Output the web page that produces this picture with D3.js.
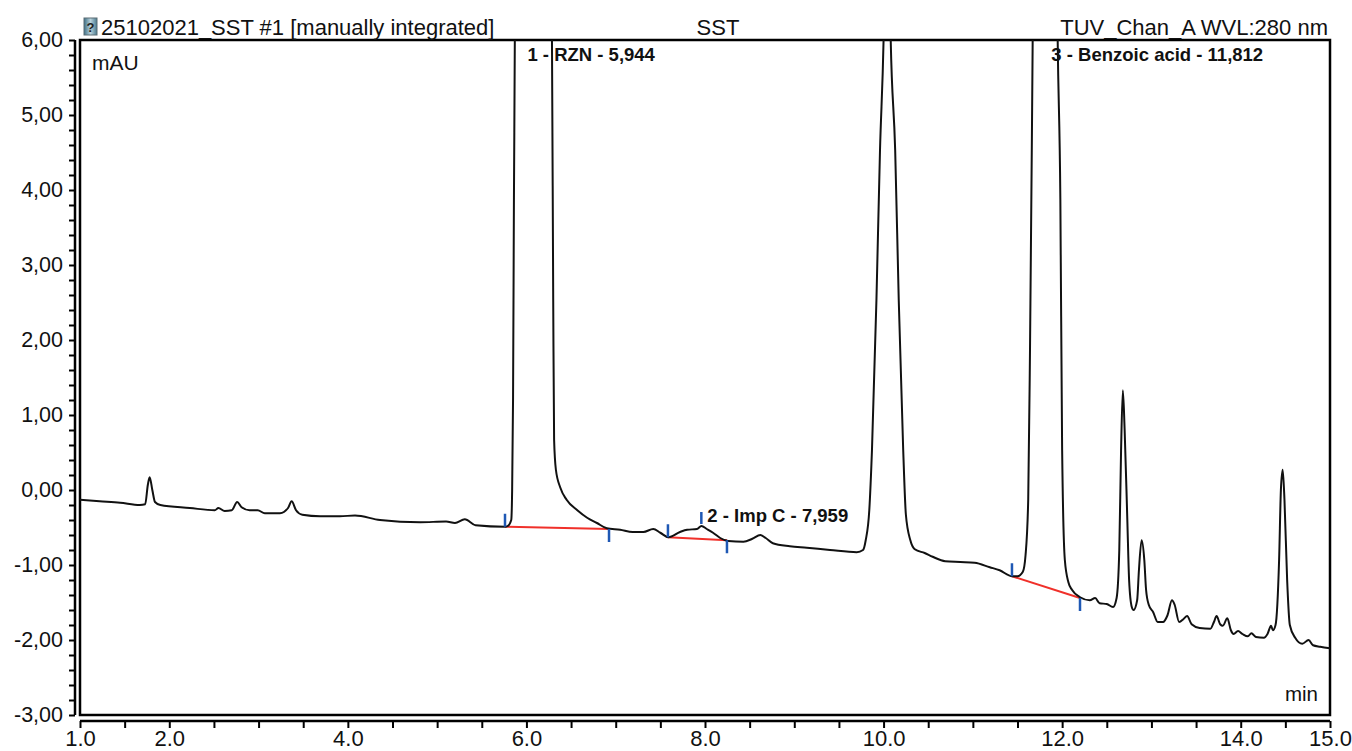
<!DOCTYPE html>
<html>
<head>
<meta charset="utf-8">
<script src="https://cdn.jsdelivr.net/npm/d3@7"></script>
<style>
  body { margin: 0; background: #fff; }
  text { font-family: "Liberation Sans", Arial, sans-serif; }
</style>
</head>
<body>
<div id="chart"></div>
<script>
// chromatogram trace (min / mAU)
var traceTime = [1.00, 1.22, 1.45, 1.67, 1.73, 1.76, 1.78, 1.81, 1.84, 1.90, 2.23, 2.51, 2.55, 2.62, 2.70, 2.76, 2.81, 2.90, 2.99, 3.07, 3.24, 3.33, 3.37, 3.42, 3.49, 3.69, 3.91, 4.08, 4.36, 4.81, 5.10, 5.20, 5.31, 5.43, 5.76,
  5.79, 5.83, 5.84, 5.85, 5.86, 5.87, 5.944, 6.05, 6.20, 6.286, 6.30, 6.31, 6.33, 6.38, 6.45, 6.57, 6.68, 6.79, 6.90, 7.05, 7.19, 7.31, 7.42, 7.50, 7.59, 7.72, 7.80, 7.91, 7.96, 8.02, 8.09, 8.17, 8.26, 8.43, 8.53, 8.62, 8.68, 8.76, 8.95, 9.14, 9.40, 9.70, 9.77, 9.80, 9.84, 9.87, 9.92, 9.96, 10.00, 10.04, 10.08, 10.13, 10.17, 10.22, 10.25, 10.30, 10.35, 10.46, 10.55, 10.69, 10.86, 11.02, 11.19, 11.30, 11.44, 11.50, 11.56, 11.59, 11.62, 11.64, 11.66, 11.67, 11.812, 11.95, 11.98, 12.00, 12.03, 12.07, 12.11, 12.20, 12.31, 12.37, 12.42, 12.50, 12.57, 12.61, 12.64, 12.66, 12.68, 12.70, 12.73, 12.75, 12.78, 12.80, 12.84, 12.86, 12.89, 12.92, 12.94, 12.97, 13.02, 13.07, 13.13, 13.18, 13.23, 13.26, 13.31, 13.36, 13.40, 13.45, 13.54, 13.66, 13.70, 13.73, 13.77, 13.80, 13.85, 13.89, 13.92, 13.97, 14.02, 14.08, 14.12, 14.17, 14.26, 14.30, 14.34, 14.36, 14.39, 14.43, 14.45, 14.47, 14.49, 14.52, 14.55, 14.61, 14.69, 14.76, 14.81, 14.89, 15.00];
var traceMau = [-0.13, -0.15, -0.17, -0.20, -0.19, 0.07, 0.17, 0.00, -0.16, -0.20, -0.24, -0.27, -0.24, -0.28, -0.27, -0.16, -0.23, -0.27, -0.27, -0.31, -0.31, -0.24, -0.15, -0.27, -0.33, -0.35, -0.35, -0.34, -0.40, -0.43, -0.42, -0.44, -0.39, -0.47, -0.49,
  -0.48, -0.40, 0.00, 1.20, 3.87, 6.00, 60.0, 30.0, 12.0, 6.00, 2.53, 0.67, 0.27, 0.03, -0.13, -0.27, -0.37, -0.44, -0.51, -0.53, -0.56, -0.56, -0.52, -0.57, -0.63, -0.56, -0.53, -0.52, -0.48, -0.52, -0.57, -0.64, -0.68, -0.69, -0.65, -0.60, -0.64, -0.71, -0.75, -0.77, -0.80, -0.83, -0.80, -0.67, -0.27, 0.53, 2.53, 4.53, 6.00, 9.00, 6.00, 4.53, 2.53, 0.53, -0.33, -0.67, -0.79, -0.84, -0.89, -0.95, -0.96, -0.97, -1.03, -1.07, -1.15, -1.15, -1.09, -0.87, -0.13, 1.87, 4.53, 6.00, 40.0, 6.00, 3.87, 0.53, -0.93, -1.23, -1.33, -1.43, -1.47, -1.44, -1.51, -1.52, -1.56, -1.44, -0.80, 0.53, 1.33, 0.80, -0.40, -1.20, -1.56, -1.60, -1.47, -1.07, -0.67, -0.93, -1.33, -1.53, -1.63, -1.76, -1.76, -1.67, -1.47, -1.53, -1.76, -1.72, -1.68, -1.79, -1.84, -1.85, -1.76, -1.68, -1.79, -1.81, -1.71, -1.87, -1.92, -1.88, -1.92, -1.95, -1.91, -1.96, -1.97, -1.92, -1.81, -1.87, -1.80, -0.93, 0.00, 0.27, -0.13, -1.20, -1.80, -1.97, -2.05, -2.00, -2.07, -2.09, -2.11];

// integrated peaks
var peakNames = ["1 - RZN - 5,944", "2 - Imp C - 7,959", "3 - Benzoic acid - 11,812"];
var peakApexTime = [5.944, 7.959, 11.812];
var peakApexMau = [60.0, -0.48, 40.0];
var peakStartTime = [5.76, 7.585, 11.438];
var peakStartMau = [-0.49, -0.63, -1.15];
var peakEndTime = [6.925, 8.246, 12.20];
var peakEndMau = [-0.52, -0.67, -1.44];

// axis ticks
var xTickLabels = [1, 2, 4, 6, 8, 10, 12, 14, 15];
var yTickLabels = [-3, -2, -1, 0, 1, 2, 3, 4, 5, 6];

var W = 1352, H = 751;
var pLeft = 80, pRight = 1330, pTop = 40, pBottom = 715;

var svg = d3.select("#chart").append("svg")
    .attr("width", W)
    .attr("height", H);

var x = d3.scaleLinear().domain([1, 15]).range([pLeft, pRight]);
var y = d3.scaleLinear().domain([-3, 6]).range([pBottom, pTop]);

svg.append("clipPath").attr("id", "plotclip")
  .append("rect")
    .attr("x", pLeft).attr("y", pTop)
    .attr("width", pRight - pLeft).attr("height", pBottom - pTop);

// y axis, a bit to the left of the frame (comma decimals, plain hyphen)
var yAxis = d3.axisLeft(y)
    .tickValues(d3.range(-3, 6.001, 0.2))
    .tickSize(6)
    .tickFormat(function (d) {
        var r = Math.round(d * 100) / 100;
        if (yTickLabels.indexOf(r) < 0) return "";
        return r.toFixed(2).replace(".", ",");
    });
var gy = svg.append("g")
    .attr("transform", "translate(" + (pLeft - 5) + ",0)")
    .call(yAxis);
gy.select(".domain").attr("stroke-width", 2.5).attr("d", "M0," + pTop + "V" + pBottom);
gy.selectAll(".tick line").attr("stroke-width", 2);
gy.selectAll(".tick text").attr("font-size", 21.5).attr("fill", "#111").attr("x", -12);

// x axis, a bit below the frame
var xAxis = d3.axisBottom(x)
    .tickValues(d3.range(1, 15.001, 0.5))
    .tickSize(7)
    .tickFormat(function (d) { return xTickLabels.indexOf(d) >= 0 ? d.toFixed(1) : ""; });
var gx = svg.append("g")
    .attr("transform", "translate(0," + (pBottom + 6) + ")")
    .call(xAxis);
gx.select(".domain").attr("stroke-width", 2.5).attr("d", "M" + pLeft + ",0H" + pRight);
gx.selectAll(".tick line").attr("stroke-width", 2);
gx.selectAll(".tick text").attr("font-size", 22).attr("fill", "#111").attr("y", 9);

// plot frame
svg.append("rect")
    .attr("x", pLeft).attr("y", pTop)
    .attr("width", pRight - pLeft).attr("height", pBottom - pTop)
    .attr("fill", "none")
    .attr("stroke", "#000")
    .attr("stroke-width", 2.5);

var trace = traceTime.map(function (t, i) { return [t, traceMau[i]]; });
var plot = svg.append("g").attr("clip-path", "url(#plotclip)");

// integration baselines
plot.selectAll(".base")
    .data(peakNames)
    .enter().append("line")
    .attr("x1", function (d, i) { return x(peakStartTime[i]); })
    .attr("y1", function (d, i) { return y(peakStartMau[i]); })
    .attr("x2", function (d, i) { return x(peakEndTime[i]); })
    .attr("y2", function (d, i) { return y(peakEndMau[i]); })
    .attr("stroke", "#f0302a")
    .attr("stroke-width", 2);

plot.append("path")
    .datum(trace)
    .attr("fill", "none")
    .attr("stroke", "#111")
    .attr("stroke-width", 2)
    .attr("stroke-linejoin", "round")
    .attr("d", d3.line()
        .curve(d3.curveMonotoneX)
        .x(function (d) { return x(d[0]); })
        .y(function (d) { return y(d[1]); }));

// blue peak delimiters
var blue = "#1f58b4";
plot.selectAll(".startMark").data(peakNames).enter().append("line")
    .attr("x1", function (d, i) { return x(peakStartTime[i]); })
    .attr("x2", function (d, i) { return x(peakStartTime[i]); })
    .attr("y1", function (d, i) { return y(peakStartMau[i]); })
    .attr("y2", function (d, i) { return y(peakStartMau[i]) - 13; })
    .attr("stroke", blue).attr("stroke-width", 2.5);
plot.selectAll(".endMark").data(peakNames).enter().append("line")
    .attr("x1", function (d, i) { return x(peakEndTime[i]); })
    .attr("x2", function (d, i) { return x(peakEndTime[i]); })
    .attr("y1", function (d, i) { return y(peakEndMau[i]); })
    .attr("y2", function (d, i) { return y(peakEndMau[i]) + 13; })
    .attr("stroke", blue).attr("stroke-width", 2.5);
plot.selectAll(".apexMark").data(peakNames).enter().append("line")
    .attr("x1", function (d, i) { return x(peakApexTime[i]); })
    .attr("x2", function (d, i) { return x(peakApexTime[i]); })
    .attr("y1", function (d, i) { return y(peakApexMau[i]) - 2; })
    .attr("y2", function (d, i) { return y(peakApexMau[i]) - 14; })
    .attr("stroke", blue).attr("stroke-width", 2.5);

// peak labels
svg.selectAll(".plabel").data(peakNames).enter().append("text")
    .attr("x", function (d, i) { return x(peakApexTime[i]) + 6; })
    .attr("y", function (d, i) { return Math.max(pTop + 21, y(peakApexMau[i]) - 4); })
    .attr("font-size", 18.5)
    .attr("font-weight", "bold")
    .attr("fill", "#111")
    .text(function (d) { return d; });

// header
var grad = svg.append("defs").append("linearGradient").attr("id", "ico").attr("x1", 0).attr("x2", 1);
grad.append("stop").attr("offset", 0).attr("stop-color", "#3d6f86");
grad.append("stop").attr("offset", 0.5).attr("stop-color", "#b8d2dc");
grad.append("stop").attr("offset", 1).attr("stop-color", "#4a7a8e");
svg.append("rect").attr("x", 84).attr("y", 18).attr("width", 13).attr("height", 17)
    .attr("fill", "url(#ico)").attr("stroke", "#5a6c74").attr("stroke-width", 1);
svg.append("text").attr("x", 90.5).attr("y", 32).attr("text-anchor", "middle")
    .attr("font-size", 13).attr("font-weight", "bold").attr("fill", "#222").text("?");

svg.append("text").attr("x", 101).attr("y", 35).attr("font-size", 22).attr("fill", "#111")
    .text("25102021_SST #1 [manually integrated]");
svg.append("text").attr("x", 718).attr("y", 35).attr("font-size", 22).attr("fill", "#111")
    .attr("text-anchor", "middle").text("SST");
svg.append("text").attr("x", 1328).attr("y", 35).attr("font-size", 22).attr("fill", "#111")
    .attr("text-anchor", "end").text("TUV_Chan_A WVL:280 nm");

svg.append("text").attr("x", 92).attr("y", 70).attr("font-size", 21).attr("fill", "#111").text("mAU");
svg.append("text").attr("x", 1318).attr("y", 701).attr("font-size", 20.5).attr("fill", "#111")
    .attr("text-anchor", "end").text("min");
</script>
</body>
</html>
